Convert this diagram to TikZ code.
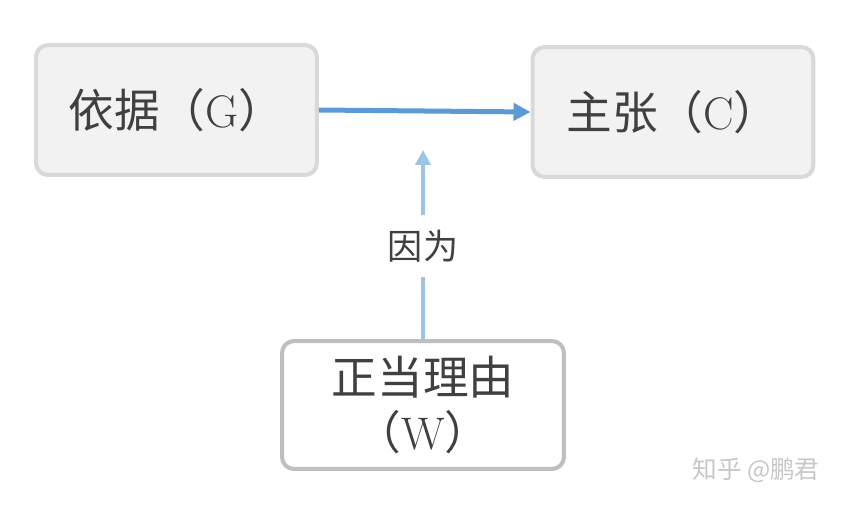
\documentclass[tikz,border=0pt]{standalone}
\usepackage{fontspec}
\newfontfamily\cjk{Noto Sans CJK SC}
\usetikzlibrary{arrows.meta}
\definecolor{boxfill}{HTML}{F2F2F2}
\definecolor{boxline}{HTML}{D9D9D9}
\definecolor{warrantline}{HTML}{BFBFBF}
\definecolor{txtgray}{HTML}{404040}
\definecolor{mainblue}{HTML}{5B9BD5}
\definecolor{lightblue}{HTML}{9DC3E6}
\begin{document}
\begin{tikzpicture}[x=0.02cm,y=0.02cm,
  part/.style={draw=boxline,fill=boxfill,line width=0.08cm,rounded corners=0.24cm,
    minimum width=5.62cm,minimum height=2.6cm,text=txtgray,align=center,
    font=\cjk\fontsize{26}{31.5}\selectfont},
  warrant/.style={part,draw=warrantline,fill=white,minimum width=5.64cm,minimum height=2.56cm},
  mainarrow/.style={draw=mainblue,line width=0.1cm,-{Triangle[length=0.34cm,width=0.34cm]}},
  sidearrow/.style={draw=lightblue,line width=0.09cm,-{Triangle[length=0.3cm,width=0.3cm]}}]
\useasboundingbox (0,0) rectangle (845,505);
\node[part] (ground) at (176.5,395) {依据（{\rmfamily G}）};
\node[part] (claim) at (673,393) {主张（{\rmfamily C}）};
\node[warrant] (warrant) at (423,100) {正当理由\\（{\rmfamily W}）};
\coordinate (wtip) at (423,355);
\draw[mainarrow] (ground.east) -- (claim.west);
\draw[sidearrow] (warrant.north) -- node[pos=0.49,fill=white,minimum height=1.24cm,inner xsep=2pt,
  text=txtgray,font=\cjk\fontsize{20}{22}\selectfont] (because) {因为} (wtip);
\node[font=\cjk\fontsize{14}{16}\selectfont,text=black!22] (mark) at (756,35) {知乎 @鹏君};
\end{tikzpicture}
\end{document}
